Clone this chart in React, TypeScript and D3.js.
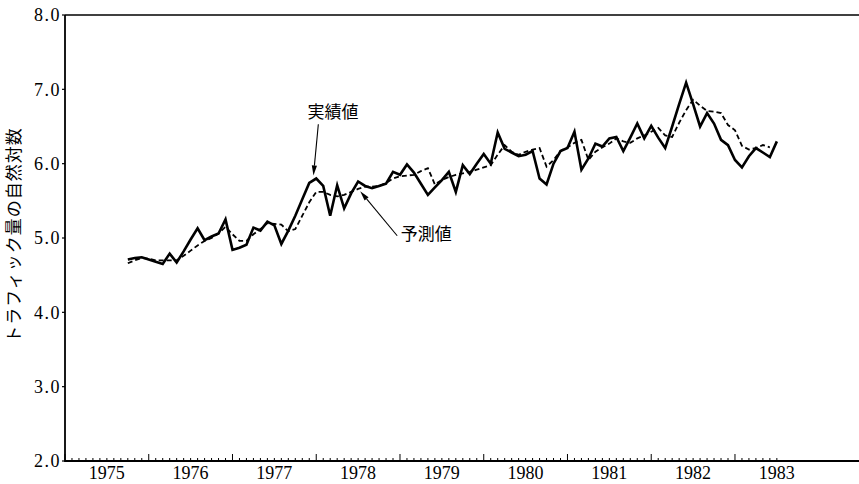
import React from "react";
import * as d3 from "d3";

// months counted from January 1975 (0 = Jan 1975)
const startMonth = 9;
const actual: number[] = [
  4.71, 4.73, 4.74, 4.71, 4.68, 4.65, 4.79, 4.67, 4.82, 4.98, // 9-18
  5.13, 4.97, 5.02, 5.06, 5.25, 4.84, 4.87, 4.91, 5.14, 5.10, // 19-28
  5.22, 5.17, 4.92, 5.10, 5.30, 5.52, 5.74, 5.80, 5.70, 5.30, // 29-38
  5.71, 5.40, 5.60, 5.76, 5.70, 5.67, 5.70, 5.73, 5.89, 5.85, // 39-48
  5.99, 5.88, 5.73, 5.58, 5.68, 5.78, 5.89, 5.62, 5.98, 5.86, // 49-58
  6.00, 6.13, 6.00, 6.42, 6.20, 6.15, 6.10, 6.12, 6.17, 5.80, // 59-68
  5.72, 6.00, 6.17, 6.21, 6.43, 5.92, 6.07, 6.27, 6.23, 6.34, // 69-78
  6.36, 6.17, 6.35, 6.54, 6.34, 6.51, 6.35, 6.21, 6.50, 6.80, // 79-88
  7.09, 6.80, 6.50, 6.68, 6.54, 6.32, 6.25, 6.05, 5.95, 6.10, // 89-98
  6.21, 6.15, 6.09, 6.30,                                     // 99-102
];
const forecast: number[] = [
  4.66, 4.70, 4.73, 4.72, 4.70, 4.70, 4.70, 4.70, 4.76, 4.83, // 9-18
  4.90, 4.96, 5.00, 5.06, 5.15, 5.05, 4.96, 4.96, 5.05, 5.12, // 19-28
  5.20, 5.19, 5.18, 5.09, 5.12, 5.30, 5.48, 5.62, 5.62, 5.58, // 29-38
  5.56, 5.58, 5.62, 5.66, 5.69, 5.69, 5.70, 5.74, 5.80, 5.83, // 39-48
  5.84, 5.85, 5.90, 5.94, 5.72, 5.78, 5.82, 5.85, 5.87, 5.89, // 49-58
  5.92, 5.95, 5.98, 6.12, 6.25, 6.16, 6.12, 6.16, 6.19, 6.21, // 59-68
  5.96, 6.05, 6.17, 6.22, 6.28, 6.32, 6.05, 6.16, 6.22, 6.27, // 69-78
  6.34, 6.30, 6.28, 6.34, 6.38, 6.43, 6.48, 6.38, 6.36, 6.55, // 79-88
  6.72, 6.86, 6.78, 6.71, 6.70, 6.68, 6.52, 6.45, 6.24, 6.19, // 89-98
  6.21, 6.25, 6.22,                                           // 99-101
];
const years = ["1975", "1976", "1977", "1978", "1979", "1980", "1981", "1982", "1983"];
const yTicks = [2, 3, 4, 5, 6, 7, 8];
const lastTickMonth = 102;
const yTitle = "トラフィック量の自然対数";
const actualLabel = "実績値";
const forecastLabel = "予測値";

const W = 859;
const H = 484;
const serif = "'Liberation Serif', 'DejaVu Serif', serif";
const jp = "'Noto Sans CJK JP', sans-serif";

export default function App() {
  const x = d3.scaleLinear().domain([0, 114]).range([65, 860.6]);
  const y = d3.scaleLinear().domain([2, 8]).range([461, 15]);

  const line = d3
    .line<number>()
    .x((_, i) => x(startMonth + i))
    .y((d) => y(d));

  const months = d3.range(0, lastTickMonth + 1);

  const arrow = (x1: number, y1: number, x2: number, y2: number, key: string) => {
    const ang = Math.atan2(y2 - y1, x2 - x1);
    const L = 10, Wd = 2.6;
    const bx = x2 - L * Math.cos(ang), by = y2 - L * Math.sin(ang);
    const px = -Math.sin(ang) * Wd, py = Math.cos(ang) * Wd;
    return (
      <g key={key}>
        <line x1={x1} y1={y1} x2={bx} y2={by} stroke="#000" strokeWidth={1.1} />
        <path d={`M${x2},${y2}L${bx + px},${by + py}L${bx - px},${by - py}Z`} fill="#000" />
      </g>
    );
  };

  return (
    <svg
      width={W}
      height={H}
      style={{ position: "absolute", left: 0, top: 0, background: "#fff" }}
    >
      {/* frame */}
      <line x1={x(0)} y1={y(8)} x2={W} y2={y(8)} stroke="#000" strokeWidth={1.5} />
      <line x1={x(0)} y1={y(2)} x2={W} y2={y(2)} stroke="#000" strokeWidth={1.8} />
      <line x1={x(0)} y1={y(2) + 1} x2={x(0)} y2={y(8)} stroke="#000" strokeWidth={1.8} />

      {/* y ticks */}
      {yTicks.map((t) => (
        <g key={"y" + t}>
          <line x1={x(0) - 3} x2={x(0)} y1={y(t)} y2={y(t)} stroke="#000" strokeWidth={1.2} />
          <text
            x={x(0) - 4}
            y={y(t)}
            dy="0.35em"
            textAnchor="end"
            fontFamily={serif}
            fontSize={18}
            letterSpacing={1.5}
          >
            {t.toFixed(1)}
          </text>
        </g>
      ))}

      {/* x ticks (monthly, inside) */}
      {months.map((m) => (
        <line
          key={"m" + m}
          x1={x(m)}
          x2={x(m)}
          y1={y(2)}
          y2={y(2) - (m % 12 === 0 ? 7 : 3)}
          stroke="#000"
          strokeWidth={1}
        />
      ))}
      {years.map((yr, i) => (
        <text
          key={yr}
          x={x(i * 12 + 6)}
          y={479}
          textAnchor="middle"
          fontFamily={serif}
          fontSize={18}
        >
          {yr}
        </text>
      ))}

      {/* y title */}
      <text
        transform={`translate(20,${235}) rotate(-90)`}
        textAnchor="middle"
        fontFamily={jp}
        fontSize={17}
        letterSpacing={1}
      >
        {yTitle}
      </text>

      {/* series */}
      <path d={line(forecast) || ""} fill="none" stroke="#000" strokeWidth={1.8} strokeDasharray="5,3" />
      <path d={line(actual) || ""} fill="none" stroke="#000" strokeWidth={2.6} strokeLinejoin="miter" />

      {/* annotations */}
      <text x={x(38.4)} y={y(6.61)} textAnchor="middle" fontFamily={jp} fontSize={17}>
        {actualLabel}
      </text>
      {arrow(x(36.3), y(6.53), x(35.6), y(5.84), "a1")}
      <text x={x(48.1)} y={y(4.97)} fontFamily={jp} fontSize={17}>
        {forecastLabel}
      </text>
      {arrow(x(47.6), y(5.03), x(42.3), y(5.63), "a2")}
    </svg>
  );
}
